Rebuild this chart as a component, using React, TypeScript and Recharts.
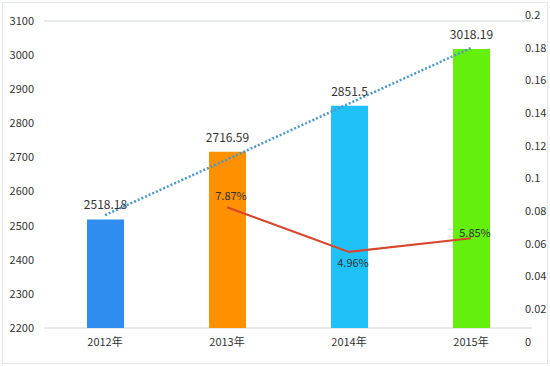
import React from 'react';
import { ComposedChart, Bar, Line, XAxis, YAxis, CartesianGrid, Cell, LabelList } from 'recharts';

const years = ['2012年', '2013年', '2014年', '2015年'];
const amounts = [2518.18, 2716.59, 2851.5, 3018.19];
const trend = [2531, 2694, 2858, 3021];
const growth = [null, 0.0787, 0.0496, 0.0585];
const barColors = ['#2f8df0', '#ff9100', '#1ec2f8', '#64f00c'];
const leftTicks = [2200, 2300, 2400, 2500, 2600, 2700, 2800, 2900, 3000, 3100];
const rightTicks = [0, 0.02, 0.04, 0.06, 0.08, 0.1, 0.12, 0.14, 0.16, 0.18, 0.2];

const data = years.map((year, i) => ({
  year,
  amount: amounts[i],
  trend: trend[i],
  growth: growth[i],
}));

const font = '"Noto Sans CJK SC", "Noto Sans", sans-serif';

// right-hand labels sit a bit spread out compared with the grid
const RightTick = (props: any) => {
  const { y, payload } = props;
  const v = payload.value;
  const dy = 14 - 20 * (v / 0.2);
  return (
    <text x={525} y={y + dy} dy="0.35em" textAnchor="start" fontSize={11} fill="#333" fontFamily={font}>
      {String(Number(v.toFixed(2)))}
    </text>
  );
};

const rateOffsets = [0, -11, 11, -5];

const RateLabel = (props: any) => {
  const { x, y, value, index } = props;
  if (value == null) return null;
  return (
    <text x={x + 4} y={y + rateOffsets[index]} dy="0.35em" textAnchor="middle" fontSize={11} fill="#333" fontFamily={font}>
      {(value * 100).toFixed(2) + '%'}
    </text>
  );
};

const App: React.FC = () => {
  return (
    <div style={{ position: 'absolute', left: 0, top: 0, width: 550, height: 366, background: '#fff', fontFamily: font }}>
      <div style={{ position: 'absolute', left: 2, top: 2, width: 544, height: 360, border: '1px solid #e2e8ea' }} />
      <ComposedChart width={550} height={366} data={data} margin={{ top: 21, right: 0, bottom: 0, left: 0 }}>
        <CartesianGrid vertical={false} stroke="#e1e5e8" strokeWidth={1.5} />
        <XAxis
          dataKey="year"
          axisLine={false}
          tickLine={false}
          height={38}
          tickMargin={4}
          tick={{ fontSize: 11, fill: '#333', fontFamily: font }}
        />
        <YAxis
          yAxisId="left"
          domain={[2200, 3100]}
          ticks={leftTicks}
          width={44}
          axisLine={false}
          tickLine={false}
          tickMargin={4}
          tick={{ fontSize: 11, fill: '#333', fontFamily: font }}
        />
        <YAxis
          yAxisId="right"
          orientation="right"
          domain={[0, 0.2]}
          ticks={rightTicks}
          width={18}
          axisLine={false}
          tickLine={false}
          tick={<RightTick />}
        />
        <Bar yAxisId="left" dataKey="amount" barSize={37} isAnimationActive={false}>
          {data.map((entry, index) => (
            <Cell key={`cell-${index}`} fill={barColors[index]} />
          ))}
          <LabelList dataKey="amount" position="top" offset={10} fontSize={12} fill="#333" fontFamily={font} />
        </Bar>
        <Line
          yAxisId="left"
          dataKey="trend"
          stroke="#4c96cc"
          strokeWidth={2.5}
          strokeDasharray="2 2"
          dot={false}
          isAnimationActive={false}
        />
        <Line
          yAxisId="right"
          dataKey="growth"
          stroke="#d8462c"
          strokeWidth={2}
          dot={false}
          isAnimationActive={false}
        >
          <LabelList dataKey="growth" content={<RateLabel />} />
        </Line>
      </ComposedChart>
    </div>
  );
};

export default App;
